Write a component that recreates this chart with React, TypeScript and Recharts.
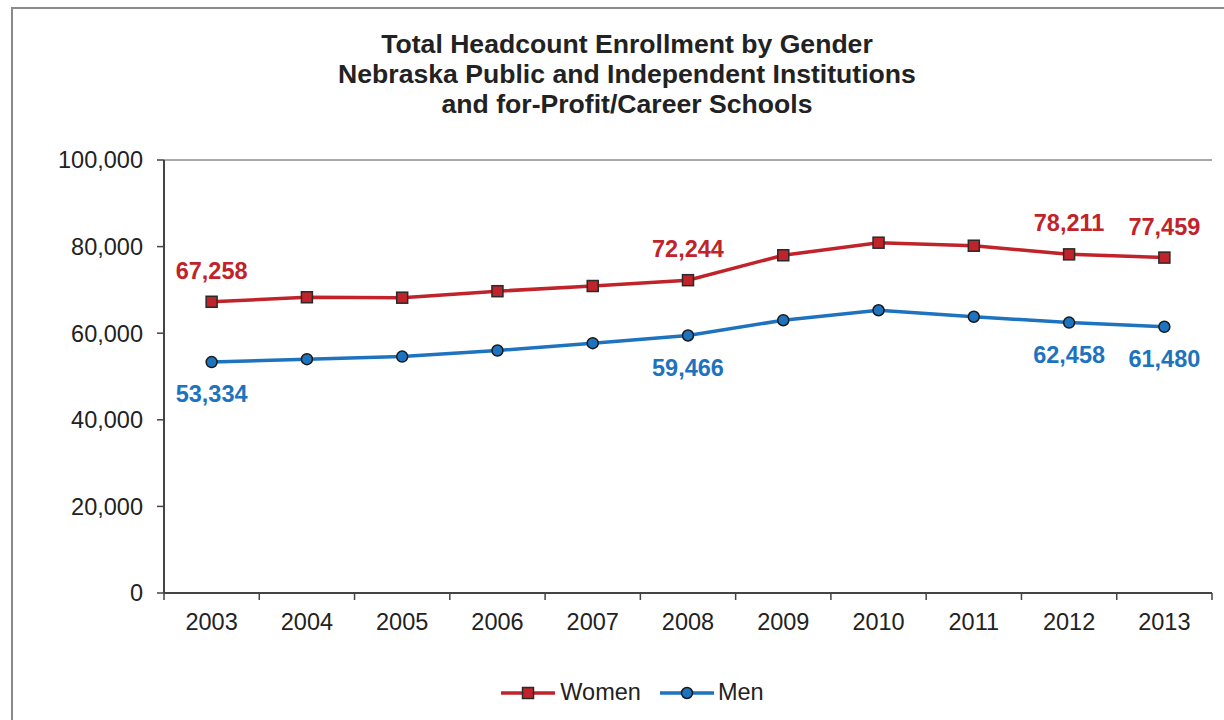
import React from 'react';
import { LineChart, Line, XAxis, YAxis, CartesianGrid, Legend, LabelList } from 'recharts';

const years = ['2003', '2004', '2005', '2006', '2007', '2008', '2009', '2010', '2011', '2012', '2013'];
const women = [67258, 68300, 68200, 69700, 70900, 72244, 78000, 80900, 80200, 78211, 77459];
const men = [53334, 54000, 54600, 56000, 57700, 59466, 63000, 65300, 63800, 62458, 61480];
const labeledIndices = [0, 5, 9, 10];
const yTicks = [0, 20000, 40000, 60000, 80000, 100000];
const titleLines = [
  'Total Headcount Enrollment by Gender',
  'Nebraska Public and Independent Institutions',
  'and for-Profit/Career Schools',
];

const data = years.map((y, i) => ({ year: y, Women: women[i], Men: men[i] }));

const RED = '#C1232B';
const BLUE = '#1E73BE';
const FONT = '"Liberation Sans", Arial, Helvetica, sans-serif';

const W = 1224;
const H = 720;
const M = { top: 160, right: 12, bottom: 87, left: 0 };
const YW = 164;
const BAND = (W - M.right - YW) / years.length;

const fmt = (v: number) => v.toLocaleString('en-US');

const SquareDot = (props: any) => {
  const { cx, cy } = props;
  if (cx == null || cy == null) return null;
  return <rect x={cx - 5.5} y={cy - 5.5} width={11} height={11} fill={RED} stroke="#2a2a2a" strokeWidth={1.5} />;
};

const CircleDot = (props: any) => {
  const { cx, cy } = props;
  if (cx == null || cy == null) return null;
  return <circle cx={cx} cy={cy} r={5.5} fill={BLUE} stroke="#1a1a1a" strokeWidth={1.5} />;
};

const makeLabel = (color: string, dy: number) => (props: any) => {
  const { x, y, value, index } = props;
  if (!labeledIndices.includes(index)) return null;
  return (
    <text x={x} y={y + dy} textAnchor="middle" dominantBaseline="central" fill={color}
      fontFamily={FONT} fontWeight="bold" fontSize={23.5}>
      {fmt(value)}
    </text>
  );
};

const XTick = (props: any) => {
  const { x, y, payload, index } = props;
  const axisY = y - 20;
  return (
    <g>
      <line x1={x - BAND / 2} x2={x - BAND / 2} y1={axisY} y2={axisY + 7} stroke="#444" strokeWidth={1.5} />
      {index === years.length - 1 && (
        <line x1={x + BAND / 2} x2={x + BAND / 2} y1={axisY} y2={axisY + 7} stroke="#444" strokeWidth={1.5} />
      )}
      <text x={x} y={y} dy="0.71em" textAnchor="middle" fill="#222" fontFamily={FONT} fontSize={23.5}>
        {payload.value}
      </text>
    </g>
  );
};

const LegendContent = () => (
  <div style={{ display: 'flex', justifyContent: 'center', alignItems: 'center', fontFamily: FONT, fontSize: 23.5, color: '#222' }}>
    <svg width={56} height={16} style={{ marginRight: 4 }}>
      <line x1={1} x2={55} y1={8} y2={8} stroke={RED} strokeWidth={3.5} />
      <rect x={22.5} y={2.5} width={11} height={11} fill={RED} stroke="#2a2a2a" strokeWidth={1.5} />
    </svg>
    <span style={{ marginRight: 18 }}>Women</span>
    <svg width={56} height={16} style={{ marginRight: 3 }}>
      <line x1={1} x2={55} y1={8} y2={8} stroke={BLUE} strokeWidth={3.5} />
      <circle cx={28} cy={8} r={5.5} fill={BLUE} stroke="#1a1a1a" strokeWidth={1.5} />
    </svg>
    <span>Men</span>
  </div>
);

export default function App() {
  return (
    <div style={{ position: 'absolute', left: 0, top: 0, width: W, height: H, overflow: 'hidden', background: '#fff' }}>
      <div style={{ position: 'absolute', left: 11, top: 7, width: W + 100, height: H + 100, border: '2px solid #8a8a8a', boxSizing: 'border-box' }} />
      <div style={{ position: 'absolute', left: 0, top: 29, width: 1254, textAlign: 'center', fontFamily: FONT, fontWeight: 'bold', fontSize: 26.6, lineHeight: '30px', color: '#222' }}>
        {titleLines.map((t) => (
          <div key={t}>{t}</div>
        ))}
      </div>
      <div style={{ position: 'absolute', left: 0, top: 0 }}>
        <LineChart width={W} height={H} data={data} margin={M}>
          <CartesianGrid vertical={false} stroke="#555" strokeWidth={1} />
          <XAxis dataKey="year" padding={{ left: BAND / 2, right: BAND / 2 }} tickLine={false} tickSize={7} tickMargin={13}
            height={40} axisLine={{ stroke: '#444', strokeWidth: 2 }} tick={<XTick />} interval={0} />
          <YAxis yAxisId="left" domain={[0, 100000]} ticks={yTicks} width={YW} tickSize={7} tickMargin={14}
            tickFormatter={fmt} axisLine={{ stroke: '#444', strokeWidth: 2 }} tickLine={{ stroke: '#444', strokeWidth: 1.5 }}
            tick={{ fill: '#222', fontFamily: FONT, fontSize: 23.5 }} />
          <YAxis yAxisId="right" orientation="right" domain={[0, 100000]} ticks={yTicks} width={0} tick={false} tickLine={false}
            axisLine={{ stroke: '#999', strokeWidth: 2.5 }} />
          <Line yAxisId="left" type="linear" dataKey="Women" stroke={RED} strokeWidth={3.5} dot={<SquareDot />} activeDot={false} isAnimationActive={false}>
            <LabelList dataKey="Women" content={makeLabel(RED, -31)} />
          </Line>
          <Line yAxisId="left" type="linear" dataKey="Men" stroke={BLUE} strokeWidth={3.5} dot={<CircleDot />} activeDot={false} isAnimationActive={false}>
            <LabelList dataKey="Men" content={makeLabel(BLUE, 32)} />
          </Line>
          <Legend layout="horizontal" verticalAlign="middle" align="center" content={<LegendContent />}
            wrapperStyle={{ position: 'absolute', top: 679, left: 0, width: 1264, height: 30 }} />
        </LineChart>
      </div>
    </div>
  );
}
